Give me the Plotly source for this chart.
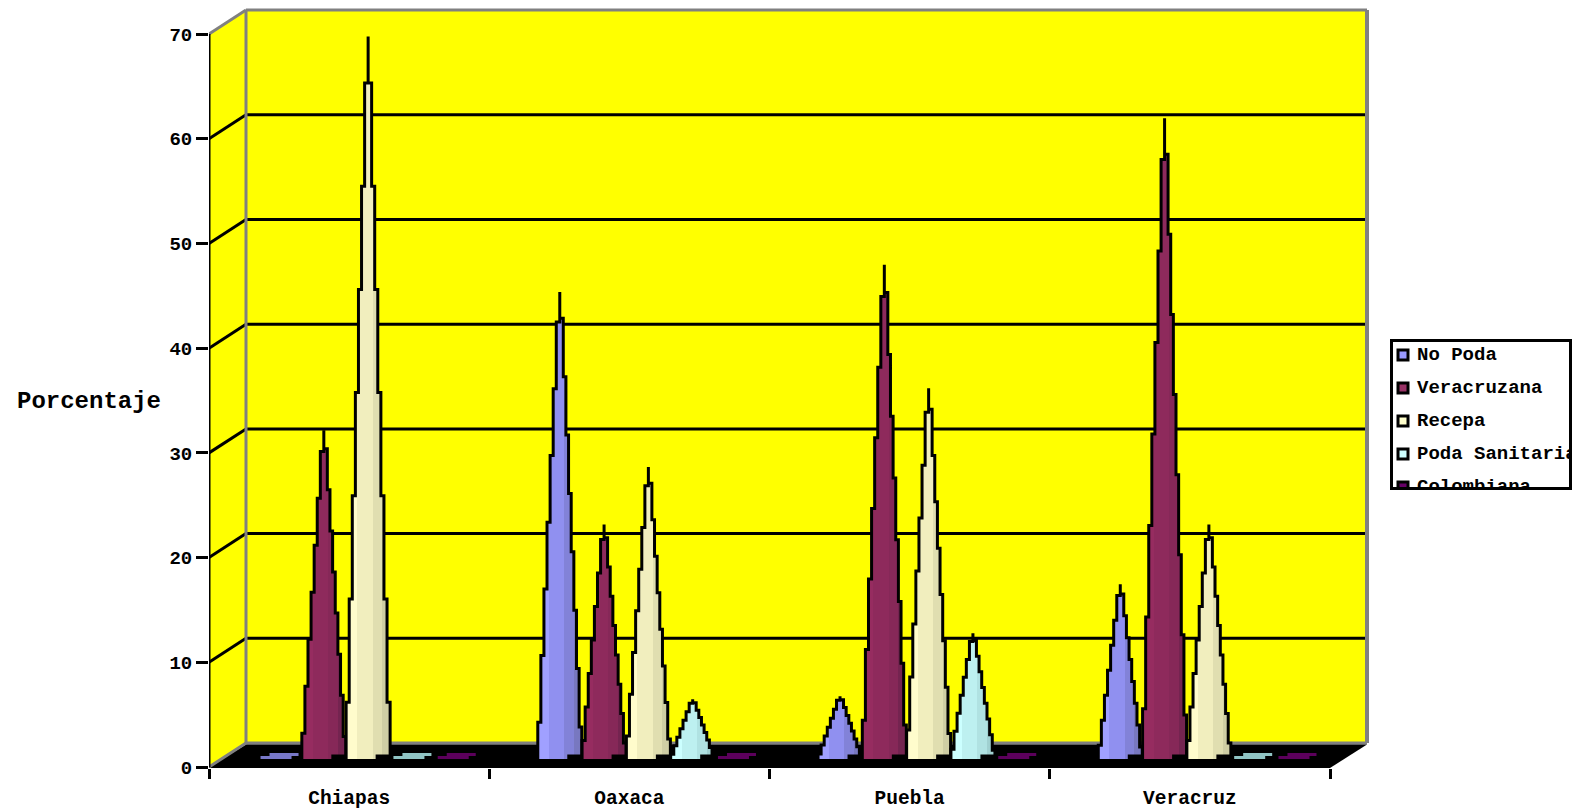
import plotly.graph_objects as go

categories = ["Chiapas", "Oaxaca", "Puebla", "Veracruz"]
series_names = ["No Poda", "Veracruzana", "Recepa", "Poda Sanitaria", "Colombiana"]
no_poda = [0.3, 44.6, 6.0, 16.7]
veracruzana = [31.4, 22.4, 47.2, 61.2]
recepa = [69.0, 27.9, 35.4, 22.4]
poda_sanitaria = [0.3, 5.7, 12.0, 0.3]
colombiana = [0.2, 0.2, 0.2, 0.2]
y_ticks = [0, 10, 20, 30, 40, 50, 60, 70]
all_values = [no_poda, veracruzana, recepa, poda_sanitaria, colombiana]

legend_colors = ["#9999ff", "#993366", "#ffffcc", "#ccffff", "#660066"]
shades = [
    ["#a0a0ff", "#9090f0", "#8282d8", "#7878c0"],
    ["#962c60", "#8e2a5c", "#862858", "#742450"],
    ["#fffccc", "#f1eebe", "#e0deb0", "#cfcea4"],
    ["#ccffff", "#bdf0f0", "#b0e2e2", "#a0d0d0"],
    ["#660066", "#5c005c", "#520052", "#4c004c"],
]
sliver_shades = ["#7878c8", "#7e2a58", "#d8d8a8", "#90c4c4", "#5c005c"]

# the page body has an 8 px margin, so the figure starts at (8, 8)
OFF = 8
W, H = 1570, 802
LEFT, RIGHT, TOP, BOTTOM = 209 - OFF, 1372 - OFF, 8 - OFF, 768 - OFF
ZERO_PX = 767 - OFF
PX_X = 280.25
PX_Y = 10.47
FONT = "Liberation Mono"
dx_depth = 37 / PX_X
dy_depth = 24 / PX_Y
base = 8 / PX_Y


def xp(px):
    return px / PX_X


def yp(px):
    return px / PX_Y


def half_width(k, n):
    return xp(3.5 + 18.5 * (k - 1) / (n - 1))


def stair(value, cx):
    tip = base + value
    h = value
    n_left = 7
    n_right = 7 if value > 65 else 8
    xs = [cx]
    ys = [tip]
    y = tip - (h / n_right) * 0.45
    last_x = cx
    for k in range(1, n_right + 1):
        hw = half_width(k, n_right)
        xs += [last_x, cx + hw]
        ys += [y, y]
        last_x = cx + hw
        y -= h / n_right
    xs += [last_x, cx + xp(9), cx + xp(9)]
    ys += [base + yp(3), base + yp(3), base - yp(1.5)]
    left_y = [tip - (h / n_left) * (0.45 + k) for k in range(n_left)]
    prev_y = base - yp(1.5)
    for k in range(n_left, 0, -1):
        hw = half_width(k, n_left)
        xs += [cx - hw, cx - hw]
        ys += [prev_y, left_y[k - 1]]
        prev_y = left_y[k - 1]
    xs += [cx, cx]
    ys += [prev_y, tip]
    return xs, ys


def sliver(cx):
    x = [-19, 12, 12, 19, 19, -10, -10, -19, -19]
    y = [0, 0, 3, 3, 6, 6, 3, 3, 0]
    return [cx + xp(v) for v in x], [base + yp(v) for v in y]


fig = go.Figure()

for s, values in enumerate(all_values):
    for c, v in enumerate(values):
        cx = c + 0.5 + (s - 2) * 44.3 / PX_X + 19 / PX_X
        if v < 1:
            xs, ys = sliver(cx)
            fig.add_trace(go.Scatter(x=xs, y=ys, mode="lines", fill="toself",
                                     fillcolor=sliver_shades[s], line=dict(width=0),
                                     hoverinfo="skip", showlegend=False))
        else:
            xs, ys = stair(v, cx)
            sc = shades[s]
            fig.add_trace(go.Scatter(
                x=xs, y=ys, mode="lines", fill="toself",
                line=dict(color="black", width=3), line_simplify=False,
                fillgradient=dict(type="horizontal", colorscale=[
                    [0, sc[0]], [0.25, sc[0]], [0.25, sc[1]], [0.6, sc[1]],
                    [0.6, sc[2]], [0.82, sc[2]], [0.82, sc[3]], [1, sc[3]]]),
                name=series_names[s], hoverinfo="skip", showlegend=False))

# legend built on its own small axes so that the last row is cut by its frame
for i, (name, col) in enumerate(zip(series_names, legend_colors)):
    ry = 16 + 33 * i
    fig.add_trace(go.Scatter(x=[13], y=[ry], mode="markers", xaxis="x2", yaxis="y2",
                             marker=dict(symbol="square", size=10, color=col,
                                         line=dict(color="black", width=3)),
                             cliponaxis=True, showlegend=False, hoverinfo="skip"))
    fig.add_trace(go.Scatter(x=[27], y=[ry], mode="text", text=[name], xaxis="x2", yaxis="y2",
                             textposition="middle right",
                             textfont=dict(family=FONT, size=19, color="black", weight="bold"),
                             cliponaxis=True, showlegend=False, hoverinfo="skip"))

shapes = []


def poly(pts, fill, layer="below"):
    path = "M " + " L ".join(f"{a},{b}" for a, b in pts) + " Z"
    shapes.append(dict(type="path", path=path, xref="x", yref="y", fillcolor=fill,
                       line=dict(width=0), layer=layer))


def seg(x0, y0, x1, y1, color, w=3, layer="below"):
    shapes.append(dict(type="line", x0=x0, y0=y0, x1=x1, y1=y1, xref="x", yref="y",
                       line=dict(color=color, width=w), layer=layer))


top_v = y_ticks[-1]
poly([(dx_depth, dy_depth), (4 + dx_depth, dy_depth), (4 + dx_depth, top_v + dy_depth), (dx_depth, top_v + dy_depth)], "#ffff00")
poly([(0, 0), (dx_depth, dy_depth), (dx_depth, top_v + dy_depth), (0, top_v)], "#ffff00")
for t in y_ticks[1:-1]:
    seg(dx_depth, t + dy_depth, 4 + dx_depth, t + dy_depth, "black", 3)
    seg(0, t, dx_depth, t + dy_depth, "black", 3)
seg(0, top_v, dx_depth, top_v + dy_depth, "#808080", 3)
seg(dx_depth, dy_depth, dx_depth, top_v + dy_depth, "#808080", 3)
seg(dx_depth, top_v + dy_depth, 4 + dx_depth, top_v + dy_depth, "#808080", 3)
seg(4 + dx_depth, dy_depth, 4 + dx_depth, top_v + dy_depth, "#808080", 4)
seg(dx_depth, dy_depth, 4 + dx_depth, dy_depth, "#808080", 3)
poly([(0, -1 / PX_Y), (0, 0), (dx_depth, dy_depth - yp(1.5)), (4 + dx_depth, dy_depth - yp(1.5)), (4, -1 / PX_Y)], "black")
seg(0, 0, dx_depth, dy_depth, "#808080", 3)
seg(0, 0, 0, top_v, "black", 3)

fig.update_layout(
    width=W, height=H, autosize=False,
    margin=dict(l=0, r=0, t=0, b=0),
    paper_bgcolor="white", plot_bgcolor="rgba(0,0,0,0)",
    showlegend=False, shapes=shapes,
    xaxis=dict(domain=[LEFT / W, RIGHT / W], range=[0, (RIGHT - LEFT) / PX_X],
               automargin=False,
               showgrid=False, zeroline=False, showline=False, anchor="y",
               tickmode="array", tickvals=[i + 0.5 for i in range(4)], ticktext=categories,
               ticks="outside", ticklen=12, tickcolor="rgba(0,0,0,0)", tickwidth=1,
               tickfont=dict(family=FONT, size=19.5, color="black", weight="bold"),
               minor=dict(tickmode="array", tickvals=[0, 1, 2, 3, 4], ticks="outside",
                          ticklen=10, tickwidth=3, tickcolor="black")),
    yaxis=dict(domain=[1 - BOTTOM / H, 1 - TOP / H],
               range=[(ZERO_PX - BOTTOM) / PX_Y, (ZERO_PX - TOP) / PX_Y],
               automargin=False,
               showgrid=False, zeroline=False, showline=False, anchor="x",
               tickmode="array", tickvals=y_ticks,
               ticks="outside", ticklen=12, tickwidth=3, tickcolor="black",
               tickfont=dict(family=FONT, size=19, color="black", weight="bold")),
    xaxis2=dict(domain=[(1393 - OFF) / W, (1569 - OFF) / W], range=[3, 179], anchor="y2",
                automargin=False, visible=True,
                showticklabels=False, ticks="", showgrid=False, zeroline=False,
                showline=True, mirror=True, linecolor="black", linewidth=3),
    yaxis2=dict(domain=[1 - (487 - OFF) / H, 1 - (342 - OFF) / H], range=[148, 3], anchor="x2",
                automargin=False, visible=True,
                showticklabels=False, ticks="", showgrid=False, zeroline=False,
                showline=True, mirror=True, linecolor="black", linewidth=3),
    annotations=[dict(text="Porcentaje", xref="paper", yref="paper",
                      x=(89 - OFF) / W, y=1 - (402 - OFF) / H, showarrow=False,
                      xanchor="center", yanchor="middle",
                      font=dict(family=FONT, size=24, color="black", weight="bold"))],
)
fig.write_html("out.html", config={"displayModeBar": False})
